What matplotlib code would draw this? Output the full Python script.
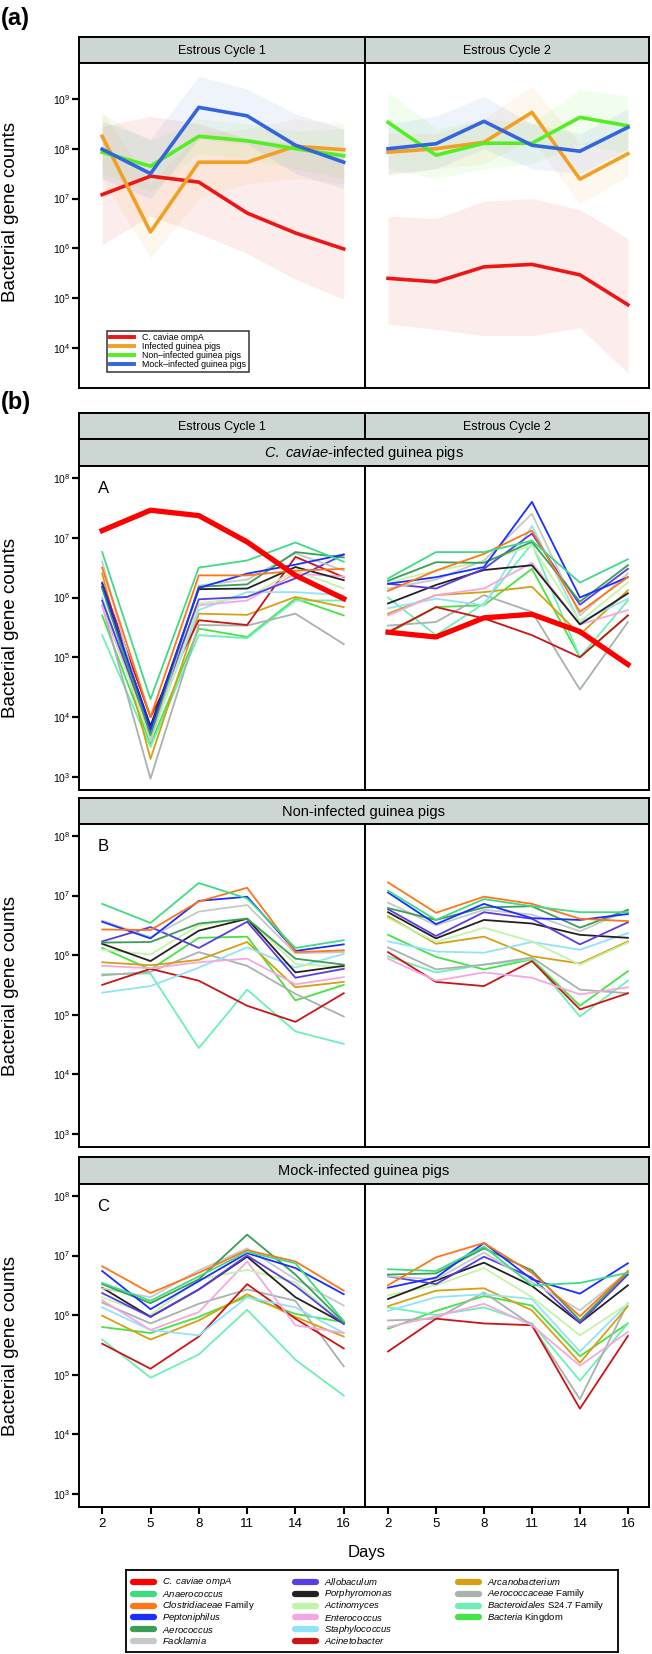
import numpy as np
import matplotlib
matplotlib.use("Agg")
import matplotlib.pyplot as plt

plt.rcParams["font.family"] = ["Liberation Sans", "DejaVu Sans"]
plt.rcParams["mathtext.fontset"] = "custom"
plt.rcParams["mathtext.rm"] = "Liberation Sans"
plt.rcParams["mathtext.it"] = "Liberation Sans:italic"
plt.rcParams["mathtext.bf"] = "Liberation Sans:bold"

W, H = 652, 1654

DAYS = ["2", "5", "8", "11", "14", "16"]
CYCLES = ["Estrous Cycle 1", "Estrous Cycle 2"]

# ---- panel (a): group means with ranges, log10 counts, cycle 1 then cycle 2
GROUPS = ["C. caviae ompA", "Infected guinea pigs",
          "Non\u2013infected guinea pigs", "Mock\u2013infected guinea pigs"]
GROUP_COLORS = ["#EE1515", "#F2A024", "#55EE22", "#3366DD"]
GROUP_MEAN = [
    [7.08, 7.45, 7.33, 6.71, 6.31, 5.99, 5.40, 5.33, 5.63, 5.68, 5.47, 4.87],
    [8.25, 6.33, 7.73, 7.73, 8.05, 7.98, 7.93, 8.00, 8.13, 8.73, 7.39, 7.90],
    [7.93, 7.65, 8.25, 8.16, 8.00, 7.86, 8.53, 7.87, 8.11, 8.11, 8.63, 8.46],
    [7.99, 7.50, 8.83, 8.66, 8.07, 7.73, 8.00, 8.10, 8.55, 8.07, 7.95, 8.43],
]
GROUP_HI = [
    [8.45, 8.65, 8.50, 8.20, 8.10, 7.85, 6.65, 6.60, 6.95, 7.00, 6.78, 6.20],
    [8.75, 7.30, 8.30, 8.40, 8.60, 8.50, 8.30, 8.30, 8.60, 9.25, 8.10, 8.40],
    [8.70, 8.15, 8.60, 8.50, 8.35, 8.40, 9.15, 8.40, 8.60, 8.50, 9.20, 9.05],
    [8.55, 8.20, 9.45, 9.20, 8.70, 8.40, 8.50, 8.65, 9.05, 8.50, 8.30, 8.80],
]
GROUP_LO = [
    [6.08, 6.65, 6.30, 5.90, 5.38, 4.98, 4.48, 4.38, 4.25, 4.25, 4.41, 3.50],
    [7.40, 5.80, 7.00, 7.30, 7.40, 7.30, 7.45, 7.60, 7.70, 8.20, 6.90, 7.45],
    [7.50, 7.15, 7.90, 7.80, 7.60, 7.40, 7.60, 7.40, 7.60, 7.70, 8.10, 7.90],
    [7.40, 7.00, 8.20, 8.10, 7.50, 7.20, 7.50, 7.60, 8.00, 7.60, 7.50, 8.00],
]

# ---- panel (b): taxa, log10 counts, cycle 1 then cycle 2
TAXA = [r"$\it{C.\ caviae\ ompA}$", r"$\it{Anaerococcus}$",
        r"$\it{Clostridiaceae}$ Family", r"$\it{Peptoniphilus}$",
        r"$\it{Aerococcus}$", r"$\it{Facklamia}$",
        r"$\it{Allobaculum}$", r"$\it{Porphyromonas}$",
        r"$\it{Actinomyces}$", r"$\it{Enterococcus}$",
        r"$\it{Staphylococcus}$", r"$\it{Acinetobacter}$",
        r"$\it{Arcanobacterium}$", r"$\it{Aerococcaceae}$ Family",
        r"$\it{Bacteroidales}$ S24.7 Family", r"$\it{Bacteria}$ Kingdom"]
TAXA_COLORS = ["#FF0000", "#3DDC84", "#FF7518", "#1A2EFF", "#3A9E55",
               "#C4C9C9", "#5A3CE6", "#222222", "#C2F5A8", "#F5A8E0",
               "#90E4F8", "#CC1414", "#D6A012", "#A9B1B1", "#6CF0B4",
               "#44E444"]

INFECTED = [
    [7.12, 7.46, 7.37, 6.93, 6.37, 5.98, 5.42, 5.34, 5.66, 5.72, 5.43, 4.88],
    [6.76, 4.30, 6.50, 6.62, 6.92, 6.60, 6.32, 6.76, 6.76, 6.95, 6.25, 6.64],
    [6.50, 4.00, 6.37, 6.37, 6.45, 6.48, 6.11, 6.45, 6.73, 7.12, 5.76, 6.34],
    [6.23, 3.80, 6.16, 6.40, 6.55, 6.72, 6.23, 6.34, 6.51, 7.60, 6.00, 6.34],
    [6.15, 3.70, 6.18, 6.22, 6.76, 6.67, 6.28, 6.59, 6.58, 6.93, 5.93, 6.54],
    [6.60, 3.60, 6.20, 6.30, 6.74, 6.45, 6.15, 6.30, 6.62, 7.40, 5.70, 6.40],
    [5.95, 3.75, 5.97, 6.01, 6.32, 6.72, 6.23, 6.15, 6.48, 7.07, 5.88, 6.48],
    [6.18, 3.85, 6.14, 6.15, 6.51, 6.29, 5.90, 6.21, 6.46, 6.54, 5.55, 6.07],
    [5.95, 3.60, 5.90, 6.00, 6.45, 6.15, 6.25, 6.45, 6.60, 6.87, 5.60, 6.25],
    [5.85, 3.70, 5.87, 5.95, 6.40, 6.35, 5.70, 6.04, 6.15, 6.58, 5.55, 5.79],
    [6.00, 3.65, 5.79, 6.09, 6.09, 6.04, 5.82, 5.98, 5.87, 7.20, 5.59, 5.98],
    [6.25, 4.00, 5.62, 5.54, 6.68, 6.34, 5.42, 5.84, 5.65, 5.37, 5.00, 5.70],
    [6.40, 3.30, 5.73, 5.71, 6.01, 5.84, 5.73, 6.04, 6.09, 6.18, 5.38, 6.12],
    [5.87, 2.97, 5.54, 5.53, 5.73, 5.22, 5.53, 5.59, 6.04, 5.76, 4.46, 5.59],
    [5.37, 3.50, 5.37, 5.32, 5.95, 5.95, 6.00, 5.37, 5.90, 6.90, 5.00, 5.95],
    [5.70, 3.55, 5.48, 5.34, 5.98, 5.70, 5.40, 5.84, 5.87, 6.48, 5.00, 5.70],
]

# no ompA row for the uninfected groups (taxa 1..15)
NON_INFECTED = [
    [6.86, 6.54, 7.21, 6.95, 6.12, 6.25, 7.08, 6.59, 6.94, 6.82, 6.72, 6.72],
    [6.43, 6.42, 6.90, 7.13, 6.05, 6.08, 7.22, 6.71, 6.98, 6.86, 6.61, 6.57],
    [6.56, 6.28, 6.91, 6.98, 6.07, 6.18, 7.05, 6.52, 6.86, 6.62, 6.59, 6.69],
    [6.21, 6.22, 6.53, 6.61, 5.94, 5.84, 6.79, 6.59, 6.80, 6.82, 6.46, 6.76],
    [6.58, 6.30, 6.73, 6.84, 6.03, 6.05, 6.88, 6.50, 6.76, 6.68, 6.40, 6.75],
    [6.23, 6.47, 6.12, 6.56, 5.62, 5.77, 6.77, 6.32, 6.72, 6.61, 6.18, 6.55],
    [6.19, 5.90, 6.41, 6.61, 5.71, 5.82, 6.72, 6.28, 6.59, 6.53, 6.34, 6.29],
    [6.09, 6.01, 6.50, 6.62, 5.85, 5.80, 6.62, 6.22, 6.46, 6.23, 5.84, 6.21],
    [5.82, 5.78, 5.88, 5.94, 5.51, 5.63, 5.94, 5.57, 5.71, 5.62, 5.34, 5.46],
    [5.37, 5.48, 5.79, 6.13, 5.79, 6.02, 6.23, 6.06, 6.04, 6.22, 6.09, 6.37],
    [5.50, 5.77, 5.57, 5.15, 4.88, 5.36, 6.05, 5.55, 5.48, 5.90, 5.09, 5.36],
    [5.88, 5.83, 5.92, 6.22, 5.46, 5.55, 6.65, 6.19, 6.31, 5.98, 5.86, 6.23],
    [5.66, 5.72, 6.05, 5.82, 5.35, 4.97, 6.13, 5.76, 5.84, 5.96, 5.42, 5.36],
    [5.68, 5.69, 4.44, 5.42, 4.72, 4.51, 5.98, 5.71, 5.84, 5.93, 4.97, 5.57],
    [6.12, 5.76, 6.29, 6.31, 5.24, 5.50, 6.34, 5.97, 5.76, 5.93, 5.15, 5.73],
]

MOCK = [
    [6.54, 6.24, 6.65, 7.06, 6.87, 5.90, 6.77, 6.74, 7.15, 6.50, 6.54, 6.71],
    [6.82, 6.37, 6.71, 7.09, 6.90, 6.41, 6.50, 6.97, 7.21, 6.71, 5.98, 6.74],
    [6.74, 6.10, 6.57, 7.04, 6.79, 6.35, 6.46, 6.63, 7.21, 6.60, 6.36, 6.87],
    [6.52, 6.20, 6.60, 7.35, 6.68, 5.88, 6.68, 6.70, 7.12, 6.75, 5.91, 6.72],
    [6.45, 6.30, 6.75, 7.12, 6.60, 6.16, 6.65, 6.60, 7.05, 6.55, 6.08, 6.72],
    [6.37, 5.97, 6.43, 7.00, 6.49, 5.85, 6.65, 6.52, 6.98, 6.63, 5.87, 6.68],
    [6.46, 5.97, 6.43, 6.98, 6.30, 5.86, 6.27, 6.58, 6.88, 6.49, 5.87, 6.50],
    [6.30, 6.00, 6.60, 6.76, 6.55, 5.85, 6.33, 6.50, 6.79, 6.30, 5.66, 6.19],
    [6.25, 5.75, 6.05, 6.90, 5.83, 5.70, 5.80, 5.98, 6.19, 5.83, 5.15, 5.72],
    [6.13, 5.75, 5.66, 6.30, 6.13, 5.70, 6.07, 6.30, 6.35, 6.27, 5.39, 6.19],
    [5.52, 5.10, 5.64, 6.52, 5.94, 5.44, 5.39, 5.94, 5.86, 5.83, 4.43, 5.65],
    [5.99, 5.59, 5.91, 6.35, 5.97, 5.64, 6.15, 6.41, 6.45, 6.08, 5.20, 6.15],
    [6.21, 5.86, 6.19, 6.43, 6.24, 5.14, 5.91, 5.94, 6.38, 5.83, 4.59, 6.20],
    [5.59, 4.95, 5.34, 6.09, 5.25, 4.65, 6.13, 6.00, 6.13, 5.86, 4.90, 5.86],
    [5.80, 5.70, 5.97, 6.31, 6.02, 5.88, 5.77, 6.07, 6.32, 6.16, 5.31, 5.86],
]

ROW_TITLES = [r"$\it{C.\ caviae}$-infected guinea pigs",
              "Non-infected guinea pigs", "Mock-infected guinea pigs"]
ROW_LETTERS = ["A", "B", "C"]

STRIP_COLOR = "#CCD6D3"
X_COLS = [(79, 365), (365, 649)]

fig = plt.figure(figsize=(W / 100, H / 100), dpi=100)


def add_ax(x0, y0, x1, y1):
    return fig.add_axes([x0 / W, 1 - y1 / H, (x1 - x0) / W, (y1 - y0) / H])


def strip(x0, y0, x1, y1, label, size):
    ax = add_ax(x0, y0, x1, y1)
    ax.set_facecolor(STRIP_COLOR)
    ax.set_xticks([])
    ax.set_yticks([])
    for s in ax.spines.values():
        s.set_linewidth(1.4)
    ax.text(0.5, 0.47, label, ha="center", va="center", fontsize=size,
            transform=ax.transAxes)
    return ax


def frame(ax, ylo, yhi, decades, left, bottom):
    ax.set_yscale("log")
    ax.set_ylim(10 ** ylo, 10 ** yhi)
    ax.set_xlim(-0.48, 5.44)
    for s in ax.spines.values():
        s.set_linewidth(1.4)
    if left:
        ax.set_yticks([10.0 ** d for d in decades])
        ax.set_yticklabels([f"$10^{{{d}}}$" for d in decades])
        ax.tick_params(axis="y", length=5, width=1.6, labelsize=7.5, pad=1)
    else:
        ax.set_yticks([])
    if bottom:
        ax.set_xticks(range(6))
        ax.set_xticklabels(DAYS)
        ax.tick_params(axis="x", length=5, width=1.5, labelsize=9.5, pad=3)
    else:
        ax.set_xticks([])
    ax.minorticks_off()


# ---------------- (a)
fig.text(1 / W, 1 - 19 / H, "(a)", fontsize=17, fontweight="bold", va="center")
for c in range(2):
    strip(X_COLS[c][0], 37, X_COLS[c][1], 63, CYCLES[c], 9)
    ax = add_ax(X_COLS[c][0], 63, X_COLS[c][1], 388)
    frame(ax, 3.2, 9.72, range(4, 10), c == 0, False)
    sl = slice(6 * c, 6 * c + 6)
    for g in range(4):
        ax.fill_between(range(6), 10 ** np.array(GROUP_LO[g][sl]),
                        10 ** np.array(GROUP_HI[g][sl]),
                        color=GROUP_COLORS[g], alpha=0.08, lw=0)
    for g in range(4):
        ax.plot(range(6), 10 ** np.array(GROUP_MEAN[g][sl]),
                color=GROUP_COLORS[g], lw=2.6, label=GROUPS[g])
    if c == 0:
        leg = ax.legend(loc="lower left", bbox_to_anchor=(0.098, 0.05),
                        fontsize=6.3, frameon=True, fancybox=False,
                        handlelength=2.8, labelspacing=0.0,
                        borderpad=0.3, handletextpad=0.9, borderaxespad=0)
        leg.get_frame().set_edgecolor("black")
        leg.get_frame().set_linewidth(1.1)
        for h in leg.get_lines():
            h.set_linewidth(2.8)
fig.text(11 / W, 1 - 212 / H, "Bacterial gene counts", rotation=90,
         ha="center", va="center", fontsize=13.5)

# ---------------- (b)
fig.text(1 / W, 1 - 402 / H, "(b)", fontsize=17, fontweight="bold", va="center")
for c in range(2):
    strip(X_COLS[c][0], 413, X_COLS[c][1], 439, CYCLES[c], 9)

ROWS = [(439, 466, 790), (798, 824, 1147), (1157, 1184, 1507)]
PANEL_DATA = [INFECTED, NON_INFECTED, MOCK]

for r, (s0, p0, p1) in enumerate(ROWS):
    strip(79, s0, 649, p0, ROW_TITLES[r], 10.5)
    data = PANEL_DATA[r]
    first = 0 if len(data) == len(TAXA) else 1
    for c in range(2):
        ax = add_ax(X_COLS[c][0], p0, X_COLS[c][1], p1)
        frame(ax, 2.78, 8.2, range(3, 9), c == 0, r == 2)
        sl = slice(6 * c, 6 * c + 6)
        for k in range(len(data) - 1, -1, -1):
            t = k + first
            thick = (t == 0)
            ax.plot(range(6), 10 ** np.array(data[k][sl]), color=TAXA_COLORS[t],
                    lw=3.8 if thick else 1.3, zorder=3 if thick else 2)
        if c == 0:
            ax.text(0.065, 0.955, ROW_LETTERS[r], transform=ax.transAxes,
                    fontsize=12, ha="left", va="top")
    fig.text(11 / W, 1 - (p0 + p1) / 2 / H, "Bacterial gene counts",
             rotation=90, ha="center", va="center", fontsize=13.5)

fig.text(367 / W, 1 - 1552 / H, "Days", ha="center", va="center", fontsize=12)

# legend for (b): drawn in a boxed axes, filled column-wise 6/6/4
lax = add_ax(126, 1570, 618, 1652)
lax.set_xlim(126, 618)
lax.set_ylim(1652, 1570)
lax.set_xticks([])
lax.set_yticks([])
for s in lax.spines.values():
    s.set_linewidth(1.3)
HANDLE_X = [133, 295, 458]
for i, (lab, col) in enumerate(zip(TAXA, TAXA_COLORS)):
    cx, ry = i // 6, i % 6
    y = 1582 + 11.8 * ry
    lax.plot([HANDLE_X[cx], HANDLE_X[cx] + 21], [y, y], color=col, lw=4.5,
             solid_capstyle="round")
    lax.text(HANDLE_X[cx] + 29, y, lab, va="center", ha="left", fontsize=6.8)

fig.savefig("out.png", dpi=100)
